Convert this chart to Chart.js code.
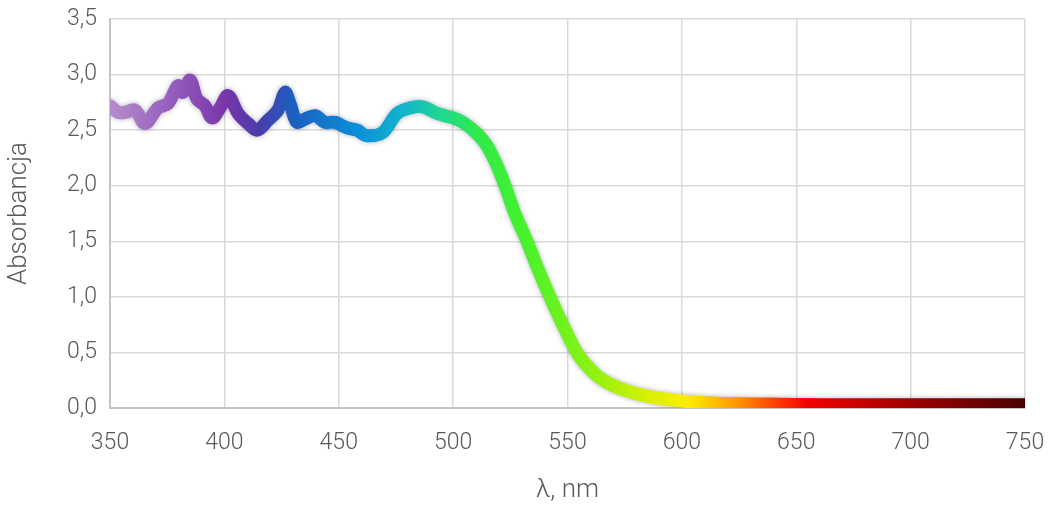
<!DOCTYPE html>
<html lang="pl">
<head>
<meta charset="utf-8">
<title>Widmo absorpcji</title>
<script src="https://cdn.jsdelivr.net/npm/chart.js@4/dist/chart.umd.min.js"></script>
<style>
    html, body { margin: 0; padding: 0; background: #fff; }
    #wrap { width: 1050px; height: 510px; position: relative; }
</style>
</head>
<body>
<div id="wrap"><canvas id="widmo"></canvas></div>
<script>
// --- dane widma ---
const wavelengths = [
    350, 353.5, 356.6, 360.9, 365.3, 371, 375.4, 379.7, 381.9, 385,
    388, 391.5, 394.6, 398.1, 401.6, 406, 410.3, 414.3, 419.1, 423.4,
    426.5, 428.7, 431.7, 435.2, 439.6, 444, 448.4, 453.6, 458, 462.3,
    469.3, 475.5, 481.1, 486.8, 493, 500, 504.3, 510.4, 514.8, 519.2,
    522.7, 527, 532.3, 537.1, 542.3, 547.2, 550, 552.4, 555, 557.7,
    562.9, 568.6, 575.1, 581.7, 589.1, 599.2, 607.9, 621, 638.5, 660.4,
    695.4, 750
];
const absorbance = [
    2.72, 2.66, 2.66, 2.68, 2.56, 2.70, 2.74, 2.90, 2.84, 2.95,
    2.78, 2.72, 2.61, 2.70, 2.81, 2.65, 2.56, 2.50, 2.59, 2.68,
    2.84, 2.74, 2.57, 2.60, 2.63, 2.57, 2.57, 2.52, 2.50, 2.45,
    2.48, 2.65, 2.70, 2.71, 2.65, 2.61, 2.57, 2.47, 2.36, 2.18,
    2.00, 1.75, 1.50, 1.25, 1.00, 0.78, 0.66, 0.56, 0.47, 0.40,
    0.29, 0.215, 0.16, 0.12, 0.09, 0.065, 0.05, 0.04, 0.035, 0.03,
    0.03, 0.03
];
const xTicks = [350, 400, 450, 500, 550, 600, 650, 700, 750];
const yTicks = [0, 0.5, 1, 1.5, 2, 2.5, 3, 3.5];

// kolory linii wg długości fali (nm -> kolor)
const spectrumNm = [350, 380, 400, 415, 430, 460, 480, 495, 510, 530, 560, 585, 602, 622, 642, 655, 700, 750];
const spectrumColor = ['#b58ccb', '#9058bb', '#7a36aa', '#4a3caa', '#1b5fc0', '#0a92d8', '#14b8c8', '#1fd98e',
    '#2fe94a', '#44f22c', '#8cf212', '#d6f200', '#fbee00', '#ffa000', '#ff3a00', '#f20000', '#a00000', '#4a0000'];

const TXT = '#595959';
const TICK_FONT = { family: 'Roboto', size: 23, weight: '300' };
const TITLE_FONT = { family: 'Roboto', size: 26, weight: '300' };

let gradCache = null;
function spectrumGradient(ctx) {
    const chart = ctx.chart;
    const area = chart.chartArea;
    if (!area) return spectrumColor[0];
    const xs = chart.scales.x;
    const key = area.left + ':' + area.right;
    if (gradCache && gradCache.key === key) return gradCache.g;
    const g = chart.ctx.createLinearGradient(area.left, 0, area.right, 0);
    const w = area.right - area.left;
    spectrumNm.forEach((nm, i) => {
        const p = (xs.getPixelForValue(nm) - area.left) / w;
        g.addColorStop(Math.min(1, Math.max(0, p)), spectrumColor[i]);
    });
    gradCache = { key, g };
    return g;
}

// miękki cień pod linią widma
const glow = {
    id: 'glow',
    beforeDatasetsDraw(chart) {
        const c = chart.ctx;
        c.save();
        c.shadowColor = 'rgba(70,70,110,0.45)';
        c.shadowBlur = 5;
    },
    afterDatasetsDraw(chart) {
        chart.ctx.restore();
    }
};

new Chart(document.getElementById('widmo'), {
    type: 'line',
    data: {
        datasets: [{
            data: wavelengths.map((nm, i) => ({ x: nm, y: absorbance[i] })),
            borderColor: spectrumGradient,
            borderWidth: 13,
            borderCapStyle: 'round',
            borderJoinStyle: 'round',
            pointRadius: 0,
            tension: 0.35,
            fill: false
        }]
    },
    options: {
        responsive: true,
        maintainAspectRatio: false,
        animation: false,
        layout: { padding: { top: 19, right: 25, bottom: 0, left: 0 } },
        plugins: { legend: { display: false }, tooltip: { enabled: false } },
        scales: {
            x: {
                type: 'linear',
                min: 350,
                max: 750,
                afterBuildTicks: s => { s.ticks = xTicks.map(v => ({ value: v })); },
                afterFit: s => { s.height = 102; s.paddingLeft = 0; s.paddingRight = 0; },
                ticks: { color: TXT, font: TICK_FONT, padding: 21, maxRotation: 0 },
                grid: { color: '#d9d9d9', lineWidth: 1.5, drawTicks: false },
                border: { color: '#c4c4c4', width: 2 },
                title: { display: true, text: 'λ, nm', color: TXT, font: TITLE_FONT, padding: { top: 10 } }
            },
            y: {
                min: 0,
                max: 3.5,
                afterBuildTicks: s => { s.ticks = yTicks.map(v => ({ value: v })); },
                afterFit: s => { s.width = 110; s.paddingTop = 0; s.paddingBottom = 0; },
                ticks: {
                    color: TXT, font: TICK_FONT, padding: 13,
                    callback: v => v.toFixed(1).replace('.', ',')
                },
                grid: { color: '#d9d9d9', lineWidth: 1.5, drawTicks: false },
                border: { color: '#c4c4c4', width: 2 },
                title: { display: true, text: 'Absorbancja', color: TXT, font: TITLE_FONT, padding: { bottom: 4 } }
            }
        }
    },
    plugins: [glow]
});
</script>
</body>
</html>
